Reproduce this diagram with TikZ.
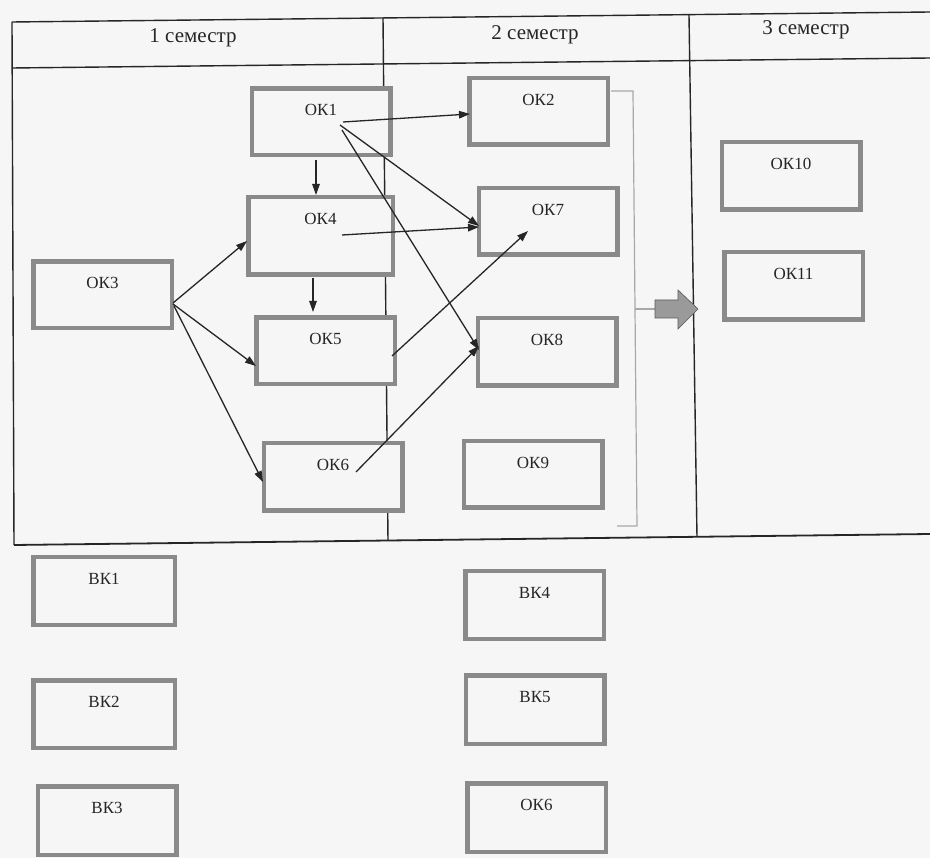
\documentclass[tikz,border=0pt]{standalone}
\usepackage{fontspec}
\setmainfont{Liberation Serif}
\usetikzlibrary{arrows.meta,calc}
\definecolor{bg}{HTML}{F6F6F6}
\definecolor{boxgray}{HTML}{8A8A8A}
\definecolor{brkgray}{HTML}{A8A8A8}
\definecolor{ink}{HTML}{262626}
\definecolor{blkfill}{HTML}{9A9A9A}
\begin{document}
\begin{tikzpicture}[x=1pt,y=-1pt,
  box/.style={draw=boxgray, fill=bg, line width=4.5pt, minimum width=138.5pt, minimum height=66.5pt, inner sep=0pt},
  lbl/.style={anchor=north, yshift=-18pt, inner sep=0pt, font=\fontsize{17}{20}\selectfont, text=ink},
  hdr/.style={font=\fontsize{21}{24}\selectfont, text=ink, anchor=base, inner sep=0pt},
  tline/.style={draw=ink, line width=1.4pt},
  arr/.style={draw=ink, line width=1.3pt, -{Triangle[length=11pt,width=7.5pt]}},
  brkline/.style={draw=brkgray, line width=1.2pt}]
\fill[bg] (0,0) rectangle (930,858);
\useasboundingbox (0,0) rectangle (930,858);
% table
\draw[tline] (12,22) -- (930,12);
\draw[tline] (12,68) -- (930,58);
\draw[tline, line width=1.8pt] (14,545) -- (930,534);
\draw[tline] (12,22) -- (14,545);
\draw[tline] (383,18) -- (388,541);
\draw[tline] (689,15) -- (697,537);
\node[hdr] (h1) at (193,43) {1 семестр};
\node[hdr] (h2) at (535,40) {2 семестр};
\node[hdr] (h3) at (806,35) {3 семестр};
% bracket and block arrow
\coordinate (b0) at (611,91);
\coordinate (b1) at (633,91);
\coordinate (b2) at (637,526);
\coordinate (b3) at (617,526);
\coordinate (bm) at (635,309);
\coordinate (bt) at (655,309);
\draw[brkline] (b0) -- (b1) -- (b2) -- (b3);
\draw[brkline] (bm) -- (bt);
\fill[blkfill, draw=gray!70!black, line width=0.6pt] (655,300) -- (678,300) -- (678,290) -- (698,309) -- (678,329) -- (678,318) -- (655,318) -- cycle;
% boxes
\node[box, label={[lbl]north:ОК1}] (ok1) at (321,122) {};
\node[box, minimum width=144.5pt, minimum height=77.5pt, label={[lbl]north:ОК4}] (ok4) at (320.5,236) {};
\node[box, label={[lbl]north:ОК3}] (ok3) at (102.5,295) {};
\node[box, label={[lbl]north:ОК5}] (ok5) at (325.5,351) {};
\node[box, minimum height=67.5pt, label={[lbl]north:ОК6}] (ok6) at (333,477) {};
\node[box, label={[lbl]north:ОК2}] (ok2) at (538.5,111.5) {};
\node[box, label={[lbl]north:ОК7}] (ok7) at (548,221.5) {};
\node[box, minimum height=67.5pt, label={[lbl]north:ОК8}] (ok8) at (547,352) {};
\node[box, label={[lbl]north:ОК9}] (ok9) at (533,474.5) {};
\node[box, minimum height=67.5pt, label={[lbl]north:ОК10}] (ok10) at (791,176) {};
\node[box, minimum height=67.5pt, label={[lbl]north:ОК11}] (ok11) at (793.5,286) {};
\node[box, minimum width=141.5pt, minimum height=67.5pt, label={[lbl]north:ВК1}] (bk1) at (104,591) {};
\node[box, minimum width=141.5pt, minimum height=67.5pt, label={[lbl]north:ВК2}] (bk2) at (104,714) {};
\node[box, minimum height=68.5pt, label={[lbl]north:ВК3}] (bk3) at (107,820.5) {};
\node[box, minimum height=67.5pt, label={[lbl]north:ВК4}] (bk4) at (534.5,605) {};
\node[box, minimum height=68.5pt, label={[lbl]north:ВК5}] (bk5) at (535,709.5) {};
\node[box, minimum height=68.5pt, label={[lbl]north:ОК6}] (ok6b) at (536.5,817.5) {};
% arrow end points
\coordinate (s12) at (343,122);  \coordinate (e12) at (470,114);
\coordinate (s17) at (340,125);  \coordinate (e17) at (479,226);
\coordinate (s18) at (342,130);  \coordinate (e18) at (479,350);
\coordinate (s14) at (316,160);  \coordinate (e14) at (316,195);
\coordinate (s45) at (313,278);  \coordinate (e45) at (313,312);
\coordinate (s47) at (342,235);  \coordinate (e47) at (479,227);
\coordinate (s34) at (173,303);  \coordinate (e34) at (247,241);
\coordinate (s35) at (173,304);  \coordinate (e35) at (256,366);
\coordinate (s36) at (174,306);  \coordinate (e36) at (263,482);
\coordinate (s57) at (392,356);  \coordinate (e57) at (528,231);
\coordinate (s68) at (356,472);  \coordinate (e68) at (479,346);
\draw[arr] (s12) -- (e12);
\draw[arr] (s17) -- (e17);
\draw[arr] (s18) -- (e18);
\draw[arr] (s14) -- (e14);
\draw[arr] (s45) -- (e45);
\draw[arr] (s47) -- (e47);
\draw[arr] (s34) -- (e34);
\draw[arr] (s35) -- (e35);
\draw[arr] (s36) -- (e36);
\draw[arr] (s57) -- (e57);
\draw[arr] (s68) -- (e68);
\end{tikzpicture}
\end{document}
